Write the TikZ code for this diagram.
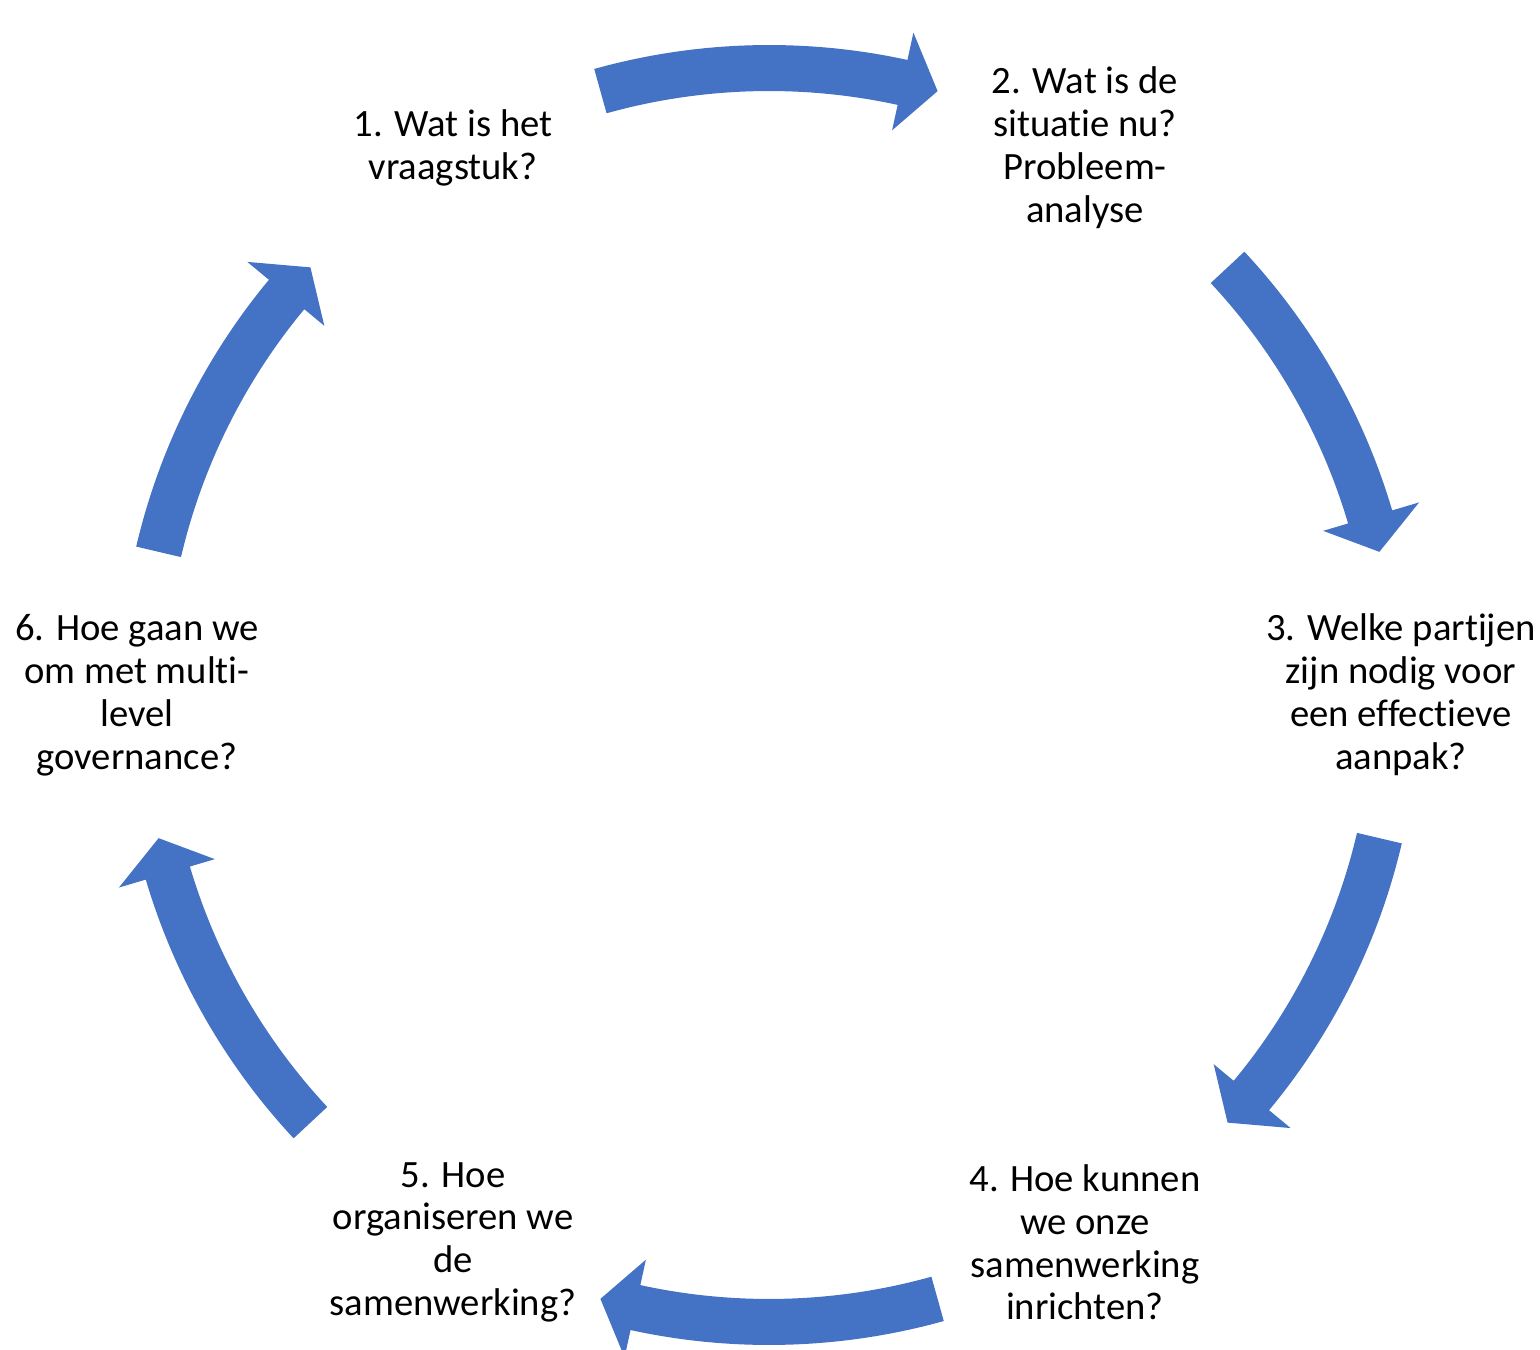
\documentclass[tikz,border=0pt]{standalone}
\usepackage{fontspec}
\setmainfont[Ligatures=NoCommon]{Carlito}
\definecolor{cycblue}{HTML}{4472C4}
% Curved block arrow on the cycle ring, running clockwise.
% #1 = angle of the tail, #2 = angle of the tip.
\newcommand\ringarrow[2]{%
  \pgfmathsetmacro\headbase{#2+3.3}%
  \fill[cycblue]
    (#1:650) arc[start angle=#1, end angle=\headbase, radius=650]
    -- (\headbase:678) -- (#2:627) -- (\headbase:578)
    -- (\headbase:604) arc[start angle=\headbase, end angle=#1, radius=604]
    -- cycle;}
\begin{document}
\begin{tikzpicture}[x=0.1mm, y=0.1mm,
  steptext/.style={align=center, text=black, inner sep=0pt,
                   font=\fontsize{11}{12.2}\selectfont}]
\useasboundingbox (-769,-655) rectangle (771,695);

% the six steps, on a hexagon round the centre
\node[steptext] (s1) at (120:632) {1. Wat is het\\vraagstuk?};
\node[steptext] (s2) at (60:632)  {2. Wat is de\\situatie nu?\\Probleem-\\analyse};
\node[steptext] (s3) at (0:632)   {3. Welke partijen\\zijn nodig voor\\een effectieve\\aanpak?};
\node[steptext] (s4) at (-60:632) {4. Hoe kunnen\\we onze\\samenwerking\\inrichten?};
\node[steptext] (s5) at (-120:632){5. Hoe\\organiseren we\\de\\samenwerking?};
\node[steptext] (s6) at (180:632) {6. Hoe gaan we\\om met multi-\\level\\governance?};

% arrows between consecutive steps
\ringarrow{105.6}{74.4}    % 1 -> 2
\ringarrow{43}{13.2}       % 2 -> 3
\ringarrow{-13.2}{-43}     % 3 -> 4
\ringarrow{-74.4}{-105.6}  % 4 -> 5
\ringarrow{-137}{-166.8}   % 5 -> 6
\ringarrow{166.8}{137}     % 6 -> 1
\end{tikzpicture}
\end{document}
